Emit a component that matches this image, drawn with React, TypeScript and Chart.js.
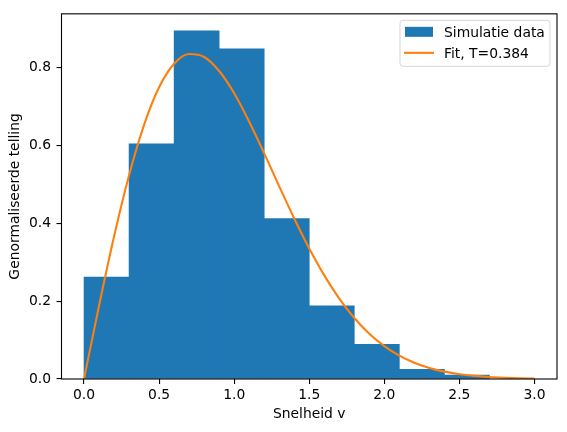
import React, { useEffect, useRef } from "react";
import { Chart, registerables } from "chart.js";

Chart.register(...registerables);

// Histogram bins (left edges), bin width 0.3
const binEdges = [0.0, 0.3, 0.6, 0.9, 1.2, 1.5, 1.8, 2.1, 2.4, 2.7];
const binHeights = [0.262, 0.605, 0.895, 0.849, 0.4126, 0.188, 0.089, 0.025, 0.010];

// Fit curve
const fitX = [
  0.0, 0.1, 0.2, 0.3, 0.4, 0.5, 0.6, 0.7, 0.8, 0.9, 1.0, 1.1, 1.2, 1.3, 1.4, 1.5,
  1.6, 1.7, 1.8, 1.9, 2.0, 2.1, 2.2, 2.3, 2.4, 2.5, 2.6, 2.7, 2.8, 2.9, 3.0,
];
const fitY = [
  0.0, 0.1885, 0.3663, 0.524, 0.6536, 0.75, 0.8105, 0.8356, 0.828, 0.792, 0.7348,
  0.6617, 0.5802, 0.4954, 0.4126, 0.3354, 0.2664, 0.2068, 0.1569, 0.1165, 0.0846,
  0.0601, 0.0419, 0.0285, 0.019, 0.0124, 0.008, 0.005, 0.0031, 0.0018, 0.0011,
];

const xTicks = [0.0, 0.5, 1.0, 1.5, 2.0, 2.5, 3.0];
const yTicks = [0.0, 0.2, 0.4, 0.6, 0.8];

const barLabel = "Simulatie data";
const lineLabel = "Fit, T=0.384";
const xTitle = "Snelheid v";
const yTitle = "Genormaliseerde telling";

const BLUE = "#1f77b4";
const ORANGE = "#ff7f0e";
const FONT = "'DejaVu Sans', sans-serif";
const FS = 13.89;

const framePlugin = {
  id: "frame",
  afterDraw(chart: any) {
    const { ctx, chartArea: a } = chart;
    ctx.save();
    ctx.strokeStyle = "#000";
    ctx.lineWidth = 1.1;
    ctx.strokeRect(a.left, a.top, a.right - a.left, a.bottom - a.top);
    ctx.restore();
  },
};

const legendPlugin = {
  id: "mplLegend",
  afterDatasetsDraw(chart: any) {
    const { ctx, chartArea: a } = chart;
    const bx = a.right - 7;
    const by = a.top + 6.5;
    const w = 150;
    const h = 46;
    const x0 = bx - w;
    ctx.save();
    ctx.beginPath();
    const r = 3;
    ctx.moveTo(x0 + r, by);
    ctx.lineTo(x0 + w - r, by);
    ctx.quadraticCurveTo(x0 + w, by, x0 + w, by + r);
    ctx.lineTo(x0 + w, by + h - r);
    ctx.quadraticCurveTo(x0 + w, by + h, x0 + w - r, by + h);
    ctx.lineTo(x0 + r, by + h);
    ctx.quadraticCurveTo(x0, by + h, x0, by + h - r);
    ctx.lineTo(x0, by + r);
    ctx.quadraticCurveTo(x0, by, x0 + r, by);
    ctx.closePath();
    ctx.fillStyle = "rgba(255,255,255,0.8)";
    ctx.fill();
    ctx.strokeStyle = "rgba(204,204,204,0.8)";
    ctx.lineWidth = 1;
    ctx.stroke();

    const labels = chart.data.datasets.map((d: any) => d.label);
    // bar patch
    ctx.fillStyle = BLUE;
    ctx.fillRect(x0 + 5, by + 6.5, 28, 10);
    // line handle
    ctx.strokeStyle = ORANGE;
    ctx.lineWidth = 2.08;
    ctx.beginPath();
    ctx.moveTo(x0 + 4, by + 32.5);
    ctx.lineTo(x0 + 34, by + 32.5);
    ctx.stroke();

    ctx.fillStyle = "#000";
    ctx.font = `${FS}px ${FONT}`;
    ctx.textBaseline = "alphabetic";
    ctx.textAlign = "left";
    ctx.fillText(labels[0], x0 + 44, by + 16.5);
    ctx.fillText(labels[1], x0 + 44, by + 37.5);
    ctx.restore();
  },
};

export default function App() {
  const ref = useRef<HTMLCanvasElement | null>(null);

  useEffect(() => {
    if (!ref.current) return;
    const barData = binHeights.map((h, i) => ({
      x: (binEdges[i] + binEdges[i + 1]) / 2,
      y: h,
    }));
    const lineData = fitX.map((x, i) => ({ x, y: fitY[i] }));

    const chart = new Chart(ref.current, {
      type: "bar",
      data: {
        datasets: [
          {
            type: "bar",
            label: barLabel,
            data: barData as any,
            backgroundColor: BLUE,
            borderWidth: 0,
            barPercentage: 1.0,
            categoryPercentage: 1.0,
            order: 2,
          } as any,
          {
            type: "line",
            label: lineLabel,
            data: lineData as any,
            borderColor: ORANGE,
            borderWidth: 2.08,
            pointRadius: 0,
            fill: false,
            cubicInterpolationMode: "monotone",
            order: 1,
          } as any,
        ],
      },
      options: {
        animation: false,
        responsive: true,
        maintainAspectRatio: false,
        layout: { padding: { left: 0, top: 9.5, right: 10, bottom: 0 } },
        plugins: {
          legend: { display: false },
          tooltip: { enabled: false },
        },
        scales: {
          x: {
            type: "linear",
            min: -0.15,
            max: 3.15,
            offset: false,
            afterFit: (s: any) => {
              s.height = 53;
            },
            afterBuildTicks: (s: any) => {
              s.ticks = xTicks.map((v) => ({ value: v }));
            },
            grid: {
              display: true,
              offset: false,
              drawOnChartArea: false,
              drawTicks: true,
              tickLength: 5,
              color: "#000",
              lineWidth: 1.1,
            },
            border: { display: false },
            ticks: {
              autoSkip: false,
              maxRotation: 0,
              padding: 3.4,
              color: "#000",
              font: { family: FONT, size: FS },
              callback: (v: any) => Number(v).toFixed(1),
            },
            title: {
              display: true,
              text: xTitle,
              color: "#000",
              font: { family: FONT, size: FS },
              padding: { top: 0, bottom: 9 },
            },
          },
          y: {
            type: "linear",
            min: 0,
            max: 0.939,
            afterFit: (s: any) => {
              s.width = 61.5;
            },
            afterBuildTicks: (s: any) => {
              s.ticks = yTicks.map((v) => ({ value: v }));
            },
            grid: {
              display: true,
              offset: false,
              drawOnChartArea: false,
              drawTicks: true,
              tickLength: 5,
              color: "#000",
              lineWidth: 1.1,
            },
            border: { display: false },
            ticks: {
              autoSkip: false,
              padding: 5.5,
              color: "#000",
              font: { family: FONT, size: FS },
              callback: (v: any) => Number(v).toFixed(1),
            },
            title: {
              display: true,
              text: yTitle,
              color: "#000",
              font: { family: FONT, size: FS },
              padding: { top: 7.2, bottom: 0 },
            },
          },
        },
      },
      plugins: [framePlugin, legendPlugin],
    });
    return () => chart.destroy();
  }, []);

  return (
    <div
      style={{
        position: "fixed",
        left: 0,
        top: 0,
        width: 567,
        height: 432,
        background: "#fff",
      }}
    >
      <canvas ref={ref} />
    </div>
  );
}
